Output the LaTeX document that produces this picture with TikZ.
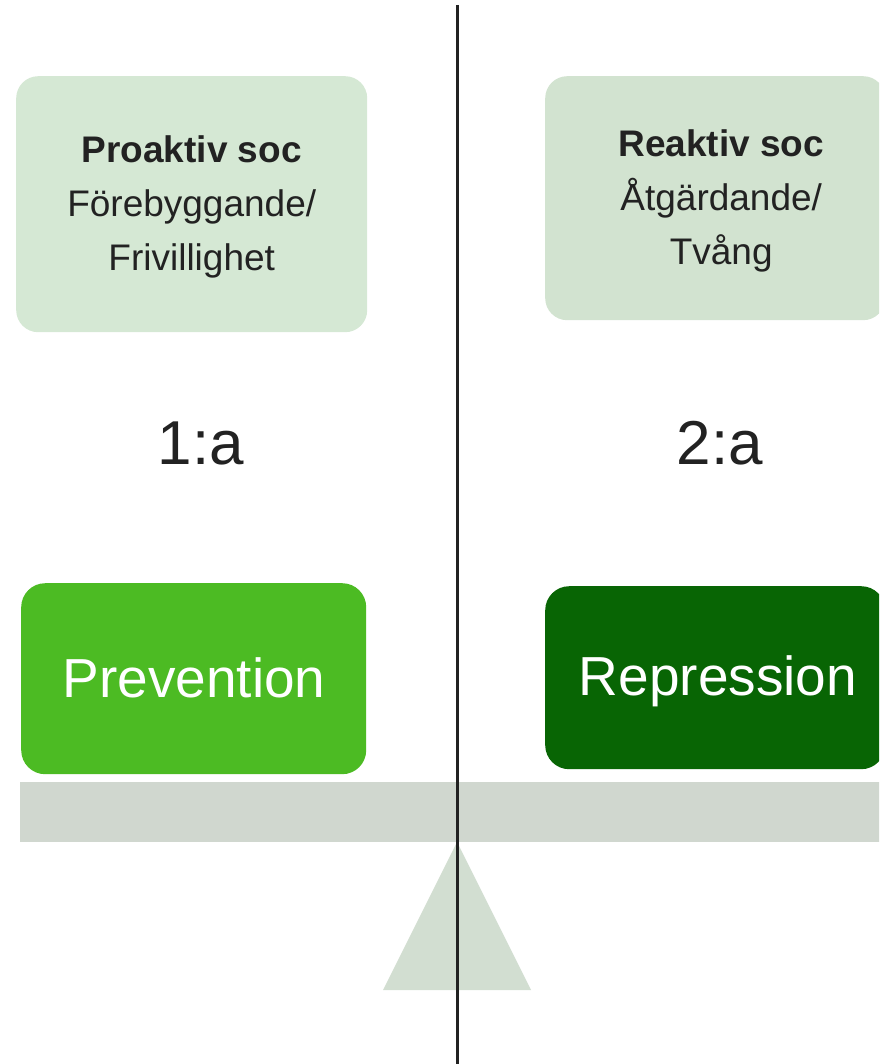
\documentclass[tikz,border=0pt]{standalone}
\usepackage{fontspec}
\setmainfont{Liberation Sans}
\definecolor{softA}{HTML}{D5E8D4}
\definecolor{softB}{HTML}{D2E3D0}
\definecolor{prevg}{HTML}{4CBB23}
\definecolor{repg}{HTML}{086504}
\definecolor{barg}{HTML}{D0D7CF}
\definecolor{trig}{HTML}{D2DED1}
\definecolor{ink}{HTML}{222222}
\tikzset{
  softbox/.style={rounded corners=22pt, inner sep=0pt, anchor=north west, text=ink, align=center,
    font=\fontsize{37}{54}\selectfont},
  bigbox/.style={rounded corners=24pt, inner sep=0pt, anchor=north west, text=white,
    font=\fontsize{55}{60}\selectfont},
  ordlabel/.style={text=ink, font=\fontsize{62}{70}\selectfont, inner sep=0pt}
}
\begin{document}
\begin{tikzpicture}[x=1pt,y=-1pt]
\useasboundingbox (0,0) rectangle (879,1064);
\clip (0,0) rectangle (879,1064);
% top boxes
\node[softbox, fill=softA, minimum width=351pt, minimum height=256pt] (pro) at (16,76) {};
\node[text=ink, align=center, font=\fontsize{37}{54}\selectfont] (protext) at ([yshift=-3pt]pro.center) {\textbf{Proaktiv soc}\\Förebyggande/\\Frivillighet};
\node[softbox, fill=softB, minimum width=340pt, minimum height=244pt] (rea) at (545,76) {};
\node[text=ink, align=center, font=\fontsize{37}{54}\selectfont] (reatext) at ([xshift=6pt,yshift=-3pt]rea.center) {\textbf{Reaktiv soc}\\Åtgärdande/\\Tvång};
% ordinal labels
\node[ordlabel] (first) at (201,443) {1:a};
\node[ordlabel] (second) at (720,443) {2:a};
% big boxes
\node[bigbox, fill=prevg, minimum width=345pt, minimum height=191pt] (prev) at (21,583) {};
\node[text=white, font=\fontsize{55}{60}\selectfont] (prevtext) at (194,678) {Prevention};
\node[bigbox, fill=repg, minimum width=340pt, minimum height=183pt] (rep) at (545,586) {};
\node[text=white, font=\fontsize{55}{60}\selectfont] (reptext) at (718,681) {Repression};
% beam and fulcrum
\node[fill=barg, inner sep=0pt, anchor=north west, minimum width=870pt, minimum height=60pt] (beam) at (20,782) {};
\coordinate (apex) at (457,842);
\coordinate (bl) at (383,990);
\coordinate (br) at (531,990);
\fill[trig] (apex) -- (br) -- (bl) -- cycle;
% divider line
\coordinate (ltop) at (457,5);
\coordinate (lbot) at (457,1064);
\draw[ink, line width=3pt] (ltop) -- (lbot);
\end{tikzpicture}
\end{document}
